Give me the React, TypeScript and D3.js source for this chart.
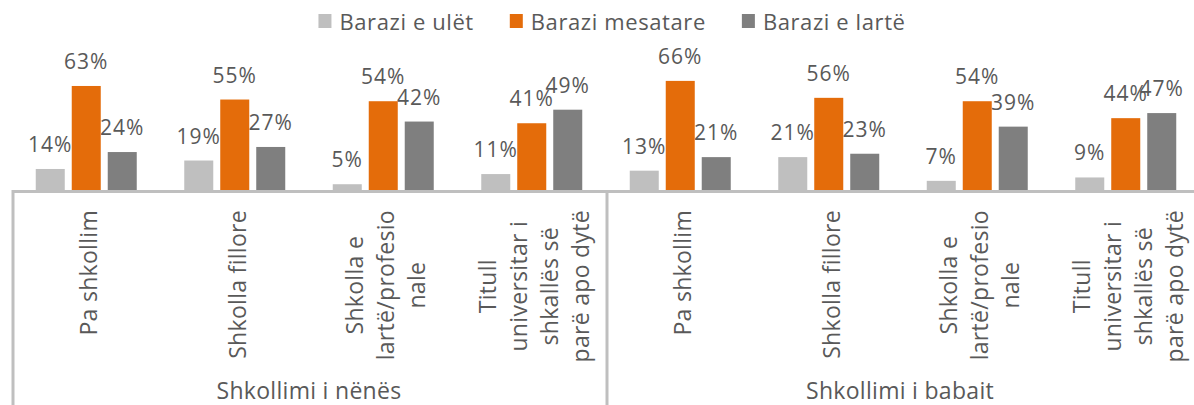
import React, { useRef, useEffect } from "react";
import * as d3 from "d3";

const categories = [
  "Pa shkollim",
  "Shkolla fillore",
  "Shkolla e lartë/profesionale",
  "Titull universitar i shkallës së parë apo dytë",
  "Pa shkollim ",
  "Shkolla fillore ",
  "Shkolla e lartë/profesionale ",
  "Titull universitar i shkallës së parë apo dytë ",
];
const categoryLines = [
  ["Pa shkollim"],
  ["Shkolla fillore"],
  ["Shkolla e", "lartë/profesio", "nale"],
  ["Titull", "universitar i", "shkallës së", "parë apo dytë"],
  ["Pa shkollim"],
  ["Shkolla fillore"],
  ["Shkolla e", "lartë/profesio", "nale"],
  ["Titull", "universitar i", "shkallës së", "parë apo dytë"],
];
const groups = ["Shkollimi i nënës", "Shkollimi i babait"];
const seriesNames = ["Barazi e ulët", "Barazi mesatare", "Barazi e lartë"];
const seriesColors = ["#bfbfbf", "#e46c0a", "#7f7f7f"];
const low = [14, 19, 5, 11, 13, 21, 7, 9];
const mid = [63, 55, 54, 41, 66, 56, 54, 44];
const high = [24, 27, 42, 49, 21, 23, 39, 47];

const W = 1194;
const H = 405;
const FONT = "'Open Sans', sans-serif";
const TEXT = "#595959";
const LINE = "#bfbfbf";

export default function App() {
  const ref = useRef<SVGSVGElement>(null);

  useEffect(() => {
    const svg = d3.select(ref.current);
    svg.selectAll("*").remove();

    const left = 12;
    const right = 1200;
    const base = 192.7;

    const x = d3.scaleBand().domain(categories).range([left, right]).padding(0);
    const xs = d3
      .scaleBand()
      .domain(seriesNames)
      .range([0, x.step()])
      .paddingInner(0.194)
      .paddingOuter(0.66);
    const y = d3.scaleLinear().domain([0, 100]).range([base, base - 169.4]);

    const values = [low, mid, high];

    // bars + value labels
    seriesNames.forEach((s, si) => {
      const g = svg.append("g");
      g.selectAll("rect")
        .data(values[si])
        .enter()
        .append("rect")
        .attr("x", (d, i) => x(categories[i])! + xs(s)!)
        .attr("y", (d) => y(d))
        .attr("width", xs.bandwidth())
        .attr("height", (d) => y(0) - y(d))
        .attr("fill", seriesColors[si]);
      g.selectAll("text")
        .data(values[si])
        .enter()
        .append("text")
        .attr("x", (d, i) => x(categories[i])! + xs(s)! + xs.bandwidth() / 2)
        .attr("y", (d) => y(d) - 17)
        .attr("text-anchor", "middle")
        .style("font-family", FONT)
        .style("font-size", "21px")
        .style("letter-spacing", "1px")
        .style("fill", TEXT)
        .text((d) => d + "%");
    });

    // axis lines
    svg
      .append("line")
      .attr("x1", left)
      .attr("x2", W)
      .attr("y1", 191.5)
      .attr("y2", 191.5)
      .attr("stroke", LINE)
      .attr("stroke-width", 3);
    [0, 4, 8].forEach((i) => {
      const xx = i < 8 ? x(categories[i])! : right;
      svg
        .append("line")
        .attr("x1", xx + 1)
        .attr("x2", xx + 1)
        .attr("y1", 190)
        .attr("y2", H)
        .attr("stroke", LINE)
        .attr("stroke-width", 3);
    });

    // category labels
    categoryLines.forEach((lines, ci) => {
      const cx = x(categories[ci])! + x.bandwidth() / 2 + 3;
      const g = svg.append("g");
      const n = lines.length;
      const texts = lines.map((l, li) =>
        g
          .append("text")
          .attr("x", 0)
          .attr("y", (li - (n - 1) / 2) * 31)
          .attr("dy", "0.35em")
          .attr("text-anchor", "middle")
          .style("font-family", FONT)
          .style("font-size", "23px")
          .style("letter-spacing", "0.3px")
          .style("fill", TEXT)
          .text(l)
      );
      const maxW = d3.max(texts, (t) => (t.node() as SVGTextElement).getComputedTextLength()) || 0;
      g.attr("transform", `translate(${cx},${210 + maxW / 2}) rotate(-90)`);
    });

    // group labels
    groups.forEach((gname, gi) => {
      const x0 = x(categories[gi * 4])!;
      const x1 = gi * 4 + 4 < 8 ? x(categories[gi * 4 + 4])! : right;
      svg
        .append("text")
        .attr("x", (x0 + x1) / 2 + (gi === 1 ? -3 : 0))
        .attr("y", 399)
        .attr("text-anchor", "middle")
        .style("font-family", FONT)
        .style("font-size", "23px")
        .style("letter-spacing", "0.3px")
        .style("fill", TEXT)
        .text(gname);
    });

    // legend
    const lg = svg.append("g");
    let cursor = 0;
    seriesNames.forEach((s, si) => {
      lg.append("rect")
        .attr("x", cursor)
        .attr("y", 14)
        .attr("width", 13)
        .attr("height", 14)
        .attr("fill", seriesColors[si]);
      const t = lg
        .append("text")
        .attr("x", cursor + 21)
        .attr("y", 30)
        .style("font-family", FONT)
        .style("font-size", "22px")
        .style("letter-spacing", "0.6px")
        .style("fill", TEXT)
        .text(s);
      const tw = (t.node() as SVGTextElement).getComputedTextLength();
      cursor += 21 + tw + (si < seriesNames.length - 1 ? 36 : 0);
    });
    lg.attr("transform", `translate(${612 - cursor / 2},0)`);
  }, []);

  return (
    <svg
      ref={ref}
      width={W}
      height={H}
      style={{ position: "absolute", left: 0, top: 0, background: "#fff" }}
    />
  );
}
